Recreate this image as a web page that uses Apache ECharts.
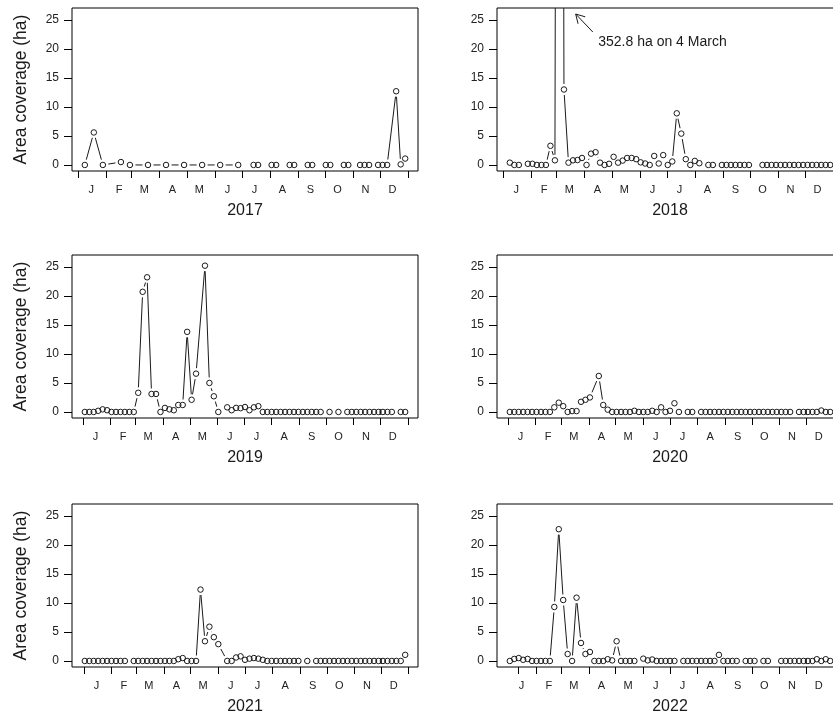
<!DOCTYPE html>
<html>
<head>
<meta charset="utf-8">
<script src="https://cdn.jsdelivr.net/npm/echarts@6/dist/echarts.min.js"></script>
<style>
  html, body { margin: 0; padding: 0; background: #fff; }
  #chart { width: 833px; height: 718px; }
</style>
</head>
<body>
<div id="chart"></div>
<script>
// month letters, ticks at the first of each month, labels on the 15th
var monthLetters = ['J', 'F', 'M', 'A', 'M', 'J', 'J', 'A', 'S', 'O', 'N', 'D'];
var monthStarts = [0, 31, 59, 90, 120, 151, 181, 212, 243, 273, 304, 334, 365];
var monthStartsLeap = [0, 31, 60, 91, 121, 152, 182, 213, 244, 274, 305, 335, 366];
var monthStarts2022 = [10, 31, 59, 90, 120, 151, 181, 212, 243, 273, 304, 334, 365];
var yTicks = [0, 5, 10, 15, 20, 25];
var years = ['2017', '2018', '2019', '2020', '2021', '2022'];

// day of year (1 Jan = 0) and area coverage (ha); null = break in the line
var days2017 = [7, 17, 27, 47, 57, 77, 97, 117, 137, 157, 177, null, 194, 199, null, 214, 219, null,
  234, 239, null, 254, 259, null, 274, 279, null, 294, 299, null, 312, 317, 322, 332, 337, 342, 352, 357, 362];
var area2017 = [0, 5.6, 0, 0.5, 0, 0, 0, 0, 0, 0, 0, null, 0, 0, null, 0, 0, null,
  0, 0, null, 0, 0, null, 0, 0, null, 0, 0, null, 0, 0, 0, 0, 0, 0, 12.7, 0.1, 1.1];

var days2018 = [7, 12, 17, 27, 32, 37, 42, 47, 52, 57, 62, 67, 72, 77, 82, 87, 92, 97, 102, 107,
  112, 117, 122, 127, 132, 137, 142, 147, 152, 157, 162, 167, 172, 177, 182, 187, 192, 197, 202, 207,
  212, 217, 227, 232, 242, 247, 252, 257, 262, 267, 272, null,
  287, 292, 297, 302, 307, 312, 317, 322, 327, 332, 337, 342, 347, 352, 357, 362];
var area2018 = [0.4, 0, 0, 0.2, 0.2, 0, 0, 0, 3.3, 0.8, 352.8, 13.0, 0.4, 0.8, 0.85, 1.2, 0, 1.95, 2.2, 0.4,
  0, 0.2, 1.4, 0.4, 0.75, 1.2, 1.2, 1.0, 0.45, 0.25, 0, 1.55, 0.25, 1.7, 0, 0.6, 8.9, 5.4, 1.0, 0,
  0.7, 0.3, 0, 0, 0, 0, 0, 0, 0, 0, 0, null,
  0, 0, 0, 0, 0, 0, 0, 0, 0, 0, 0, 0, 0, 0, 0, 0];

var days2019 = [2, 7, 12, 17, 22, 27, 32, 37, 42, 47, 52, 57, 62, 67, 72, 77, 82, 87, 92, 97,
  102, 107, 112, 117, 122, 127, 137, 142, 147, 152, 162, 167, 172, 177, 182, 187, 192, 197,
  202, 207, 212, 217, 222, 227, 232, 237, 242, 247, 252, 257, 262, 267, 277, 287,
  297, 302, 307, 312, 317, 322, 327, 332, 337, 342, 347, 357, 362];
var area2019 = [0, 0, 0, 0.2, 0.45, 0.3, 0, 0, 0, 0, 0, 0, 3.3, 20.7, 23.2, 3.1, 3.1, 0, 0.7, 0.45,
  0.3, 1.2, 1.2, 13.8, 2.1, 6.6, 25.2, 5.0, 2.7, 0, 0.8, 0.3, 0.7, 0.65, 0.85, 0.3, 0.8, 1.0,
  0, 0, 0, 0, 0, 0, 0, 0, 0, 0, 0, 0, 0, 0, 0, 0,
  0, 0, 0, 0, 0, 0, 0, 0, 0, 0, 0, 0, 0];

var days2020 = [2, 7, 12, 17, 22, 27, 32, 37, 42, 47, 52, 57, 62, 67, 72, 77, 82, 87, 92, 102,
  107, 112, 117, 122, 127, 132, 137, 142, 147, 152, 157, 162, 167, 172, 177, 182, 187, 192, 202, 207,
  217, 222, 227, 232, 237, 242, 247, 252, 257, 262, 267, 272, 277, 282, 287, 292, 297, 302, 307, 312, 317,
  327, 332, 337, 342, 347, 352, 357, 362];
var area2020 = [0, 0, 0, 0, 0, 0, 0, 0, 0, 0, 0.8, 1.6, 1.0, 0, 0.15, 0.15, 1.75, 2.1, 2.5, 6.2,
  1.2, 0.4, 0, 0, 0, 0, 0, 0.2, 0, 0, 0, 0.2, 0, 0.8, 0, 0.2, 1.5, 0, 0, 0,
  0, 0, 0, 0, 0, 0, 0, 0, 0, 0, 0, 0, 0, 0, 0, 0, 0, 0, 0, 0, 0,
  0, 0, 0, 0, 0, 0.25, 0, 0];

var days2021 = [1, 6, 11, 16, 21, 26, 31, 36, 41, 46, 56, 61, 66, 71, 76, 81, 86, 91, 96, 101,
  106, 111, 116, 121, 126, 131, 136, 141, 146, 151, 161, 166, 171, 176, 181, 186, 191, 196, 201,
  206, 211, 216, 221, 226, 231, 236, 241, 251,
  261, 266, 271, 276, 281, 286, 291, 296, 301, 306, 311, 316, 321, 326, 331, 336, 341, 346, 351, 356, 361];
var area2021 = [0, 0, 0, 0, 0, 0, 0, 0, 0, 0, 0, 0, 0, 0, 0, 0, 0, 0, 0, 0,
  0.3, 0.5, 0, 0, 0, 12.3, 3.4, 5.9, 4.1, 2.9, 0, 0, 0.6, 0.8, 0.2, 0.4, 0.5, 0.4, 0.2,
  0, 0, 0, 0, 0, 0, 0, 0, 0,
  0, 0, 0, 0, 0, 0, 0, 0, 0, 0, 0, 0, 0, 0, 0, 0, 0, 0, 0, 0, 1.05];

var days2022 = [1, 6, 11, 16, 21, 26, 31, 36, 41, 46, 51, 56, 61, 66, 71, 76, 81, 86, 91, 96,
  101, 106, 111, 116, 121, 126, 131, 136, 141, 151, 156, 161, 166, 171, 176, 181, 186,
  196, 201, 206, 211, 216, 221, 226, 231, 236, 241, 246, 251, 256, 266, 271, 276, 286, 291, null,
  306, 311, 316, 321, 326, 331, 336, 341, 346, 351, 356, 361];
var area2022 = [0, 0.35, 0.5, 0.2, 0.35, 0, 0, 0, 0, 0, 9.3, 22.7, 10.5, 1.2, 0, 10.9, 3.1, 1.2, 1.55, 0,
  0, 0, 0.3, 0.1, 3.4, 0, 0, 0, 0, 0.4, 0.1, 0.25, 0, 0, 0, 0, 0,
  0, 0, 0, 0, 0, 0, 0, 0, 1.05, 0, 0, 0, 0, 0, 0, 0, 0, 0, null,
  0, 0, 0, 0, 0, 0, 0, 0, 0.3, 0, 0.3, 0];

// short vertical bar on the zero row at 1 December (2019-2022)
var decMark = [null, null, 334, 335, 334, 334];

var panelDays = [days2017, days2018, days2019, days2020, days2021, days2022];
var panelArea = [area2017, area2018, area2019, area2020, area2021, area2022];
var panelTicks = [monthStarts, monthStarts, monthStarts, monthStartsLeap, monthStarts, monthStarts2022];
var panelMonths = [monthStarts, monthStarts, monthStarts, monthStartsLeap, monthStarts, monthStarts];

var FONT = '"Liberation Sans", Arial, sans-serif';
var GAP = 5.5;          // R type="b": lines stop short of the points
var lefts = [72, 497];
var tops = [8, 255, 504];

function midMonths(starts) {
  return starts.slice(0, 12).map(function (s) { return s + 14; });
}

// segment list [x0, y0, x1, y1] between consecutive non-missing points
function segments(d, v) {
  var out = [];
  for (var k = 0; k + 1 < d.length; k++) {
    if (d[k] == null || d[k + 1] == null) continue;
    out.push([d[k], v[k], d[k + 1], v[k + 1]]);
  }
  return out;
}

function renderSeg(params, api) {
  var p0 = api.coord([api.value(0), api.value(1)]);
  var p1 = api.coord([api.value(2), api.value(3)]);
  var dx = p1[0] - p0[0], dy = p1[1] - p0[1];
  var len = Math.sqrt(dx * dx + dy * dy);
  if (len <= 2 * GAP) return null;
  var ux = dx / len, uy = dy / len;
  return {
    type: 'line',
    shape: { x1: p0[0] + ux * GAP, y1: p0[1] + uy * GAP, x2: p1[0] - ux * GAP, y2: p1[1] - uy * GAP },
    style: { stroke: '#1a1a1a', lineWidth: 1 }
  };
}

// 2018 note: arrow from the text towards the off-scale peak
function renderNote(params, api) {
  var tip = api.coord([api.value(0), api.value(1)]);
  var tail = api.coord([api.value(2), api.value(3)]);
  var txt = api.coord([api.value(4), api.value(5)]);
  var ang = Math.atan2(tail[1] - tip[1], tail[0] - tip[0]);
  var L = 10, a = Math.PI / 6;
  return {
    type: 'group',
    children: [
      { type: 'line', shape: { x1: tail[0], y1: tail[1], x2: tip[0], y2: tip[1] }, style: { stroke: '#1a1a1a', lineWidth: 1 } },
      { type: 'polyline', shape: { points: [
          [tip[0] + L * Math.cos(ang + a), tip[1] + L * Math.sin(ang + a)],
          tip,
          [tip[0] + L * Math.cos(ang - a), tip[1] + L * Math.sin(ang - a)]] },
        style: { stroke: '#1a1a1a', lineWidth: 1, fill: null } },
      { type: 'text', style: { text: '352.8 ha on 4 March', x: txt[0], y: txt[1], fill: '#1a1a1a',
          fontSize: 14, fontFamily: FONT, align: 'left', verticalAlign: 'middle' } }
    ]
  };
}

var grids = [], xAxes = [], yAxes = [], series = [];

years.forEach(function (yr, i) {
  var d = panelDays[i], v = panelArea[i];
  var col = i % 2, row = Math.floor(i / 2);
  var present = d.filter(function (x) { return x != null; });
  var lo = Math.min.apply(null, present), hi = Math.max.apply(null, present);
  var ext = 0.04 * (hi - lo);
  var mids = midMonths(panelMonths[i]);

  grids.push({
    left: lefts[col], top: tops[row], width: 346, height: 163,
    outerBoundsMode: 'none', containLabel: false,
    show: true, borderColor: '#000', borderWidth: 1, backgroundColor: 'transparent'
  });

  xAxes.push({
    gridIndex: i, type: 'value', min: lo - ext, max: hi + ext,
    axisLine: { show: false, onZero: false },
    splitLine: { show: false },
    axisTick: { show: true, customValues: panelTicks[i], length: 7, lineStyle: { color: '#000', width: 1 } },
    axisLabel: {
      customValues: mids, margin: 13, fontSize: 11, fontFamily: FONT, color: '#222',
      formatter: function (val) { return monthLetters[mids.indexOf(val)] || ''; }
    },
    name: yr, nameLocation: 'middle', nameGap: 32,
    nameTextStyle: { fontSize: 16, fontFamily: FONT, color: '#1a1a1a' }
  });

  yAxes.push({
    gridIndex: i, type: 'value', min: -1.04, max: 27.04,
    axisLine: { show: false, onZero: false },
    splitLine: { show: false },
    axisTick: { show: true, customValues: yTicks, length: 8, lineStyle: { color: '#000', width: 1 } },
    axisLabel: { customValues: yTicks, margin: 13, fontSize: 12, fontFamily: FONT, color: '#222' },
    name: col === 0 ? 'Area coverage (ha)' : '', nameLocation: 'middle', nameGap: 42,
    nameTextStyle: { fontSize: 17.5, fontFamily: FONT, color: '#1a1a1a' }
  });

  series.push({
    type: 'custom', xAxisIndex: i, yAxisIndex: i, clip: true, silent: true,
    renderItem: renderSeg, data: segments(d, v)
  });

  var pts = [];
  d.forEach(function (x, k) { if (x != null) pts.push([x, v[k]]); });
  series.push({
    type: 'scatter', xAxisIndex: i, yAxisIndex: i, clip: true, silent: true,
    symbol: 'circle', symbolSize: 5.5,
    itemStyle: { color: 'rgba(0,0,0,0)', borderColor: '#1a1a1a', borderWidth: 1, opacity: 1 },
    data: pts
  });

  if (decMark[i] != null) {
    series.push({
      type: 'scatter', xAxisIndex: i, yAxisIndex: i, silent: true,
      symbol: 'rect', symbolSize: [1.6, 6],
      itemStyle: { color: '#1a1a1a' },
      data: [[decMark[i], 0]]
    });
  }
});

series.push({
  type: 'custom', xAxisIndex: 1, yAxisIndex: 1, clip: false, silent: true,
  renderItem: renderNote, data: [[80, 26, 99, 22.9, 105, 21.1]]
});

var chart = echarts.init(document.getElementById('chart'), null, { renderer: 'canvas' });
chart.setOption({
  animation: false,
  backgroundColor: '#fff',
  grid: grids, xAxis: xAxes, yAxis: yAxes, series: series
});
</script>
</body>
</html>
